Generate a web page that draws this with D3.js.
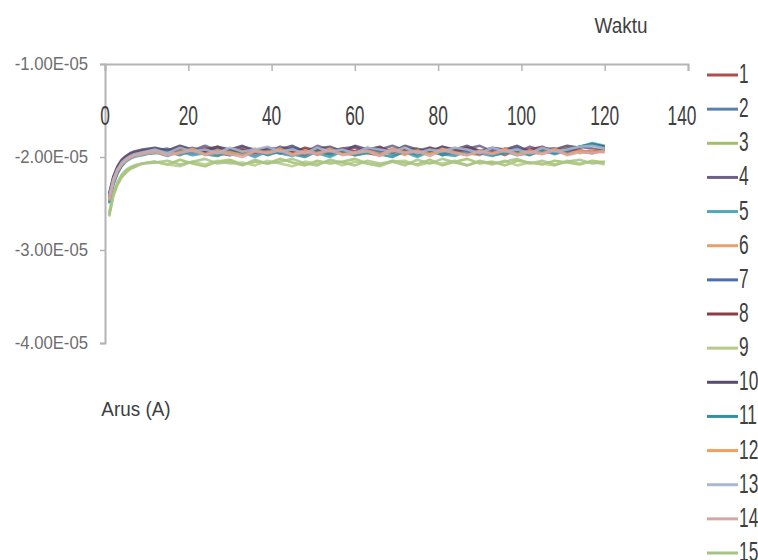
<!DOCTYPE html>
<html>
<head>
<meta charset="utf-8">
<script src="https://cdn.jsdelivr.net/npm/d3@7"></script>
<style>
  html, body { margin: 0; padding: 0; background: #fff; }
  svg { display: block; }
  text { font-family: "Liberation Sans", Arial, sans-serif; }
</style>
</head>
<body>
<svg id="chart" width="758" height="560"></svg>
<script>
// ---- data (current values in units of 1e-6 A) ----
const UNIT = 1e-6;
const waktu = [1,2,3,4,5,6,7,8,9,12,15,18,21,24,27,30,33,36,39,42,45,48,51,54,57,60,63,66,69,72,75,78,81,84,87,90,93,96,99,102,105,108,111,114,117,120];

const seriesNames = ["1","2","3","4","5","6","7","8","9","10","11","12","13","14","15"];
const seriesColors = ["#B04C4E","#5A80AE","#A2C064","#6C6088","#4FA8B8","#E8A068","#4A6EAE","#8C3C42","#B3CB86","#574C6E","#33909C","#F0A060","#A9B8D2","#D6A6A6","#A6C286"];

const s1 = [-24.4,-22.5,-21.4,-20.7,-20.2,-19.9,-19.7,-19.6,-19.5,
  -19.3,-19.7,-19.1,-19.5,-19.0,-19.6,-19.8,-19.2,-19.4,-19.7,
  -19.1,-19.5,-19.8,-19.2,-19.6,-19.3,-19.0,-19.6,-19.8,-19.2,
  -19.5,-19.7,-19.1,-19.8,-19.4,-19.0,-19.6,-19.3,-19.8,-19.2,
  -19.6,-19.4,-19.1,-19.7,-19.3,-19.6,-19.2];
const s2 = [-24.8,-22.8,-21.6,-20.9,-20.4,-20.1,-19.9,-19.7,-19.6,
  -19.4,-19.8,-19.3,-19.7,-19.5,-19.1,-19.7,-19.4,-19.9,-19.3,
  -19.6,-19.8,-19.2,-19.5,-19.9,-19.3,-19.7,-19.5,-19.1,-19.7,
  -19.4,-19.9,-19.3,-19.6,-19.8,-19.2,-19.5,-19.8,-19.3,-19.7,
  -19.5,-19.2,-19.6,-19.3,-18.9,-18.6,-18.9];
const s3 = [-26.4,-24.2,-23.0,-22.2,-21.7,-21.3,-21.1,-20.9,-20.7,
  -20.5,-20.8,-20.3,-20.7,-21.0,-20.5,-20.3,-20.8,-20.5,-20.7,
  -20.2,-20.6,-20.9,-20.4,-20.7,-20.5,-20.2,-20.7,-20.9,-20.4,
  -20.6,-20.8,-20.3,-20.9,-20.5,-20.2,-20.7,-20.5,-20.9,-20.4,
  -20.6,-20.8,-20.4,-20.6,-20.8,-20.4,-20.6];
const s4 = [-24.1,-22.2,-21.1,-20.4,-20.0,-19.7,-19.5,-19.4,-19.3,
  -19.1,-19.4,-18.9,-19.3,-18.8,-19.3,-19.5,-18.9,-19.2,-19.5,
  -18.9,-19.2,-19.5,-18.8,-19.3,-19.1,-18.9,-19.5,-19.2,-18.8,
  -19.3,-19.1,-19.5,-18.9,-19.3,-19.1,-18.8,-19.4,-19.2,-19.5,
  -18.9,-19.3,-19.1,-19.5,-18.9,-19.1,-19.3];
const s5 = [-25.0,-23.0,-21.8,-21.0,-20.5,-20.2,-20.0,-19.9,-19.8,
  -19.5,-19.9,-19.4,-19.8,-19.6,-19.2,-19.8,-19.5,-20.0,-19.4,
  -19.6,-19.9,-19.3,-19.6,-20.0,-19.4,-19.8,-19.6,-19.2,-19.8,
  -19.5,-20.0,-19.4,-19.7,-19.9,-19.3,-19.6,-19.9,-19.4,-19.8,
  -19.6,-19.3,-19.7,-19.3,-18.9,-18.5,-18.8];
const s6 = [-24.6,-22.6,-21.5,-20.8,-20.3,-20.0,-19.8,-19.7,-19.6,
  -19.5,-19.2,-19.7,-19.1,-19.5,-19.8,-19.3,-19.6,-19.1,-19.7,
  -19.3,-19.6,-19.1,-19.8,-19.3,-19.6,-19.8,-19.2,-19.5,-19.3,
  -19.8,-19.1,-19.6,-19.3,-19.0,-19.6,-19.8,-19.2,-19.6,-19.3,
  -19.8,-19.1,-19.4,-19.0,-19.6,-19.3,-19.5];
const s7 = [-24.3,-22.4,-21.3,-20.6,-20.2,-19.9,-19.7,-19.6,-19.5,
  -19.3,-19.1,-19.6,-19.0,-19.4,-19.6,-19.2,-19.7,-19.3,-19.1,
  -19.6,-19.0,-19.4,-19.7,-19.2,-19.4,-19.6,-19.0,-19.4,-19.2,
  -19.6,-19.3,-19.0,-19.6,-19.2,-19.4,-19.7,-19.2,-19.4,-19.0,
  -19.6,-19.3,-19.1,-19.5,-18.9,-18.7,-19.0];
const s8 = [-24.2,-22.3,-21.2,-20.5,-20.1,-19.8,-19.6,-19.5,-19.4,
  -19.2,-19.6,-19.0,-19.4,-19.2,-18.9,-19.5,-19.2,-19.6,-19.0,
  -19.3,-19.5,-19.0,-19.3,-19.6,-19.1,-19.4,-19.2,-18.9,-19.5,
  -19.2,-19.6,-19.0,-19.3,-19.5,-19.0,-19.3,-19.6,-19.1,-19.4,
  -19.2,-18.9,-19.5,-19.1,-19.3,-19.5,-19.2];
const s9 = [-26.0,-23.9,-22.7,-21.9,-21.4,-21.1,-20.9,-20.8,-20.7,
  -20.5,-20.8,-21.0,-20.5,-20.8,-20.4,-20.7,-20.6,-20.9,-20.4,
  -20.7,-21.0,-20.5,-20.7,-20.4,-20.9,-20.5,-20.7,-21.0,-20.5,
  -20.4,-20.9,-20.6,-20.7,-20.4,-20.9,-20.5,-20.8,-20.4,-20.9,
  -20.6,-20.7,-20.9,-20.4,-20.7,-20.5,-20.8];
const s10 = [-23.9,-22.1,-21.0,-20.3,-19.9,-19.6,-19.4,-19.3,-19.2,
  -19.0,-19.3,-18.8,-19.2,-19.4,-18.9,-19.2,-18.8,-19.4,-19.0,
  -19.2,-18.8,-19.4,-19.1,-18.9,-19.4,-18.8,-19.2,-19.0,-19.4,
  -18.8,-19.2,-19.4,-18.9,-19.2,-18.8,-19.4,-19.0,-19.2,-18.8,
  -19.4,-19.0,-19.2,-18.8,-19.0,-18.6,-18.9];
const s11 = [-24.9,-22.9,-21.7,-20.9,-20.4,-20.1,-19.9,-19.8,-19.7,
  -19.6,-19.4,-19.8,-19.3,-19.7,-19.9,-19.4,-19.7,-19.3,-19.8,
  -19.4,-19.7,-20.0,-19.4,-19.7,-19.3,-19.8,-19.5,-19.7,-20.0,
  -19.4,-19.7,-19.3,-19.8,-19.5,-19.7,-19.3,-19.8,-19.6,-19.4,
  -19.8,-19.3,-19.6,-19.2,-18.9,-18.6,-19.0];
const s12 = [-24.5,-22.6,-21.4,-20.7,-20.3,-20.0,-19.8,-19.7,-19.6,
  -19.3,-19.7,-19.5,-19.1,-19.7,-19.3,-19.5,-19.8,-19.3,-19.5,
  -19.1,-19.7,-19.3,-19.6,-19.1,-19.7,-19.5,-19.3,-19.8,-19.1,
  -19.5,-19.3,-19.7,-19.1,-19.5,-19.8,-19.3,-19.6,-19.1,-19.7,
  -19.3,-19.6,-19.1,-19.7,-19.3,-19.5,-19.3];
const s13 = [-24.2,-22.4,-21.3,-20.6,-20.2,-19.9,-19.7,-19.6,-19.5,
  -19.2,-19.6,-19.0,-19.4,-19.2,-19.6,-19.0,-19.4,-19.2,-18.9,
  -19.4,-19.2,-19.6,-19.0,-19.4,-19.2,-19.6,-19.0,-19.2,-19.4,
  -19.0,-19.6,-19.2,-19.4,-19.0,-19.2,-19.6,-19.0,-19.4,-19.2,
  -19.6,-19.0,-19.4,-19.2,-18.9,-18.8,-19.1];
const s14 = [-24.7,-22.7,-21.5,-20.8,-20.4,-20.1,-19.9,-19.8,-19.7,
  -19.5,-19.8,-19.6,-19.3,-19.8,-19.5,-19.7,-20.0,-19.4,-19.6,
  -19.3,-19.8,-19.5,-19.7,-19.3,-19.8,-19.6,-19.4,-19.9,-19.3,
  -19.6,-19.4,-19.9,-19.3,-19.6,-19.8,-19.4,-19.7,-19.3,-19.8,
  -19.5,-19.7,-19.3,-19.8,-19.5,-19.6,-19.4];
const s15 = [-26.2,-24.0,-22.8,-22.0,-21.5,-21.2,-21.0,-20.8,-20.7,
  -20.6,-20.4,-20.8,-20.5,-20.2,-20.7,-20.5,-20.9,-20.3,-20.7,
  -20.5,-20.2,-20.7,-20.9,-20.3,-20.6,-20.9,-20.4,-20.7,-20.5,
  -20.9,-20.3,-20.7,-20.2,-20.6,-20.9,-20.4,-20.7,-20.5,-20.2,
  -20.7,-20.4,-20.8,-20.5,-20.3,-20.7,-20.5];

const seriesValues = [s1,s2,s3,s4,s5,s6,s7,s8,s9,s10,s11,s12,s13,s14,s15];

const xTicks = [0,20,40,60,80,100,120,140];
const yTicks = [-1e-5,-2e-5,-3e-5,-4e-5];
const yTickLabels = ["-1.00E-05","-2.00E-05","-3.00E-05","-4.00E-05"];
const xTitle = "Waktu";
const yTitle = "Arus (A)";

// ---- drawing ----
const svg = d3.select("#chart");
const x = d3.scaleLinear().domain([0,140]).range([105,688]);
const y = d3.scaleLinear().domain([-4e-5,-1e-5]).range([343,64]);

const axisColor = "#b4b4b4";

// y axis line + ticks
const yAxis = d3.axisLeft(y).tickValues(yTicks).tickSize(5).tickFormat("");
const gy = svg.append("g").attr("transform", `translate(${x(0)},0)`).call(yAxis);
gy.select(".domain").attr("stroke", axisColor).attr("stroke-width", 2);
gy.selectAll(".tick line").attr("stroke", axisColor).attr("stroke-width", 1.5);

// y tick labels
svg.append("g").selectAll("text").data(yTicks).join("text")
  .attr("transform", (d) => `translate(88,${y(d) + 6}) scale(0.88,1)`)
  .attr("text-anchor", "end")
  .attr("font-size", 19)
  .attr("fill", "#6e6e6e")
  .text((d, i) => yTickLabels[i]);

// x axis (at the top, crossing at -1E-05)
const xAxis = d3.axisBottom(x).tickValues(xTicks).tickSize(7).tickFormat("");
const gx = svg.append("g").attr("transform", `translate(0,${y(-1e-5)})`).call(xAxis);
gx.select(".domain").attr("stroke", axisColor).attr("stroke-width", 2);
gx.selectAll(".tick line").attr("stroke", axisColor).attr("stroke-width", 1.5);

// x tick labels
svg.append("g").selectAll("text").data(xTicks).join("text")
  .attr("transform", (d) => `translate(${x(d) - (d === 140 ? 6 : 0)},125) scale(0.62,1)`)
  .attr("text-anchor", "middle")
  .attr("font-size", 28)
  .attr("fill", "#404040")
  .text((d) => d);

// lines
const line = d3.line()
  .x((d) => x(d[0]))
  .y((d) => y(d[1] * UNIT));

svg.append("g").selectAll("path").data(seriesValues).join("path")
  .attr("fill", "none")
  .attr("stroke", (d, i) => seriesColors[i])
  .attr("stroke-width", 2.6)
  .attr("stroke-linejoin", "round")
  .attr("stroke-opacity", 0.85)
  .attr("d", (vals) => line(vals.map((v, j) => [waktu[j], v])));

// axis titles
svg.append("text")
  .attr("transform", "translate(621,33) scale(0.86,1)")
  .attr("text-anchor", "middle")
  .attr("font-size", 22)
  .attr("fill", "#404040")
  .text(xTitle);

svg.append("text")
  .attr("transform", "translate(136,416) scale(0.9,1)")
  .attr("text-anchor", "middle")
  .attr("font-size", 21)
  .attr("fill", "#404040")
  .text(yTitle);

// legend
const ly = d3.scalePoint().domain(seriesNames).range([75, 553]);
const lg = svg.append("g").selectAll("g").data(seriesNames).join("g")
  .attr("transform", (d) => `translate(0,${ly(d)})`);
lg.append("line")
  .attr("x1", 707).attr("x2", 738).attr("y1", 0).attr("y2", 0)
  .attr("stroke", (d, i) => seriesColors[i])
  .attr("stroke-width", 3);
lg.append("text")
  .attr("transform", "translate(739,8) scale(0.62,1)")
  .attr("font-size", 28)
  .attr("fill", "#404040")
  .text((d) => d);
</script>
</body>
</html>
